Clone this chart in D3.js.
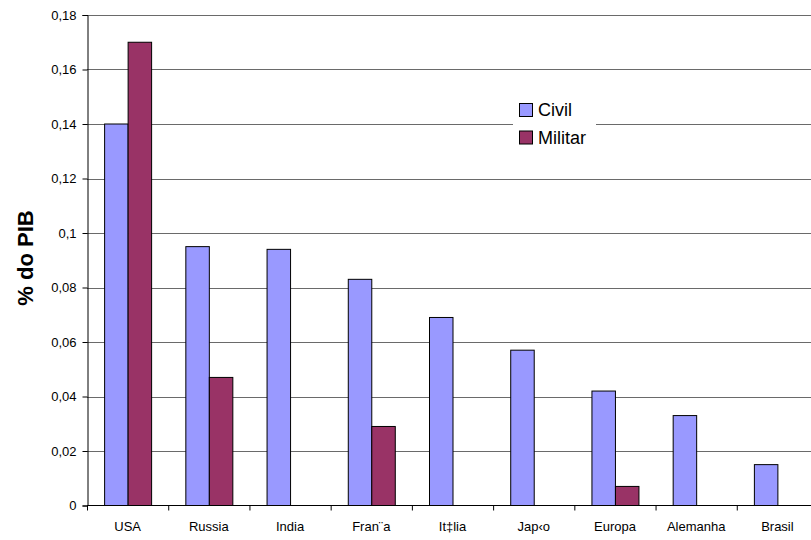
<!DOCTYPE html>
<html>
<head>
<meta charset="utf-8">
<script src="https://cdn.jsdelivr.net/npm/d3@7"></script>
<style>
  body { margin: 0; background: #fff; }
  svg { display: block; font-family: Arial, "Liberation Sans", sans-serif; }
</style>
</head>
<body>
<svg id="chart" width="811" height="540"></svg>
<script>
const categories = ["USA", "Russia", "India", "Fran¨a", "It‡lia", "Jap‹o", "Europa", "Alemanha", "Brasil"];
const seriesNames = ["Civil", "Militar"];
const civil   = [0.14, 0.095, 0.094, 0.083, 0.069, 0.057, 0.042, 0.033, 0.015];
const militar = [0.17, 0.047, 0, 0.029, 0, 0, 0.007, 0, 0];
const yTicks = [0, 0.02, 0.04, 0.06, 0.08, 0.1, 0.12, 0.14, 0.16, 0.18];
const yTickLabels = ["0", "0,02", "0,04", "0,06", "0,08", "0,1", "0,12", "0,14", "0,16", "0,18"];
const colors = ["#9999FF", "#993366"];

(function () {
const svg = d3.select("#chart");
const mLeft = 87, mRight = 818, mTop = 15, mBottom = 505.5;

const x = d3.scaleBand().domain(categories).range([mLeft, mRight]).paddingInner(0).paddingOuter(0);
const x1 = d3.scaleBand().domain(seriesNames).range([0, 47]);
const y = d3.scaleLinear().domain([0, 0.18]).range([mBottom, mTop]);

// gridlines
svg.append("g").selectAll("line").data(yTicks.slice(1)).join("line")
  .attr("x1", mLeft).attr("x2", 811)
  .attr("y1", d => Math.round(y(d)) + 0.5).attr("y2", d => Math.round(y(d)) + 0.5)
  .attr("stroke", "#6a6a6a").attr("stroke-width", 1);

// bars
const data = categories.map((c, i) => ({c, vals: [civil[i], militar[i]]}));
const groups = svg.append("g").selectAll("g").data(data).join("g")
  .attr("transform", d => `translate(${x(d.c) + (x.bandwidth() - 47) / 2},0)`);
groups.selectAll("rect")
  .data(d => d.vals.map((v, j) => ({name: seriesNames[j], v, j})).filter(e => e.v > 0))
  .join("rect")
  .attr("x", e => x1(e.name) + 0.5)
  .attr("width", x1.bandwidth())
  .attr("y", e => y(e.v))
  .attr("height", e => mBottom - y(e.v))
  .attr("fill", e => colors[e.j])
  .attr("stroke", "#000").attr("stroke-width", 1);

// y axis
const yAxis = d3.axisLeft(y).tickValues(yTicks).tickFormat((d, i) => yTickLabels[i]).tickSize(5).tickPadding(6);
const gy = svg.append("g").attr("transform", `translate(${mLeft + 0.5},0)`).call(yAxis);
gy.select(".domain").attr("stroke", "#000");
gy.selectAll(".tick line").attr("stroke", "#000");
gy.selectAll("text").attr("font-size", 13).attr("fill", "#000")
  .attr("font-family", "Arial, 'Liberation Sans', sans-serif");

// x axis
const xAxis = d3.axisBottom(x).tickSize(0).tickPadding(16);
const gx = svg.append("g").attr("transform", `translate(0,${mBottom})`).call(xAxis);
gx.select(".domain").remove();
gx.append("line").attr("x1", mLeft).attr("x2", 811).attr("y1", 0).attr("y2", 0).attr("stroke", "#000");
gx.selectAll(".tick text").attr("font-size", 13).attr("fill", "#000")
  .attr("font-family", "Arial, 'Liberation Sans', sans-serif");
gx.append("g").selectAll("line").data(categories).join("line")
  .attr("x1", d => x(d) + 0.5).attr("x2", d => x(d) + 0.5)
  .attr("y1", 0).attr("y2", 5).attr("stroke", "#000");

// y title
svg.append("text")
  .attr("transform", "translate(33,258) rotate(-90)")
  .attr("text-anchor", "middle")
  .attr("font-size", 22).attr("font-weight", "bold")
  .text("% do PIB");

// legend
const lg = svg.append("g").attr("transform", "translate(513,97)");
lg.append("rect").attr("x", 0).attr("y", 0).attr("width", 83).attr("height", 54).attr("fill", "#fff");
seriesNames.forEach((n, i) => {
  lg.append("rect").attr("x", 6.5).attr("y", 6.5 + i * 27.5).attr("width", 13).attr("height", 13)
    .attr("fill", colors[i]).attr("stroke", "#000");
  lg.append("text").attr("x", 25).attr("y", 13 + i * 27.5).attr("dy", "0.35em")
    .attr("font-size", 18).text(n);
});
})();
</script>
</body>
</html>
